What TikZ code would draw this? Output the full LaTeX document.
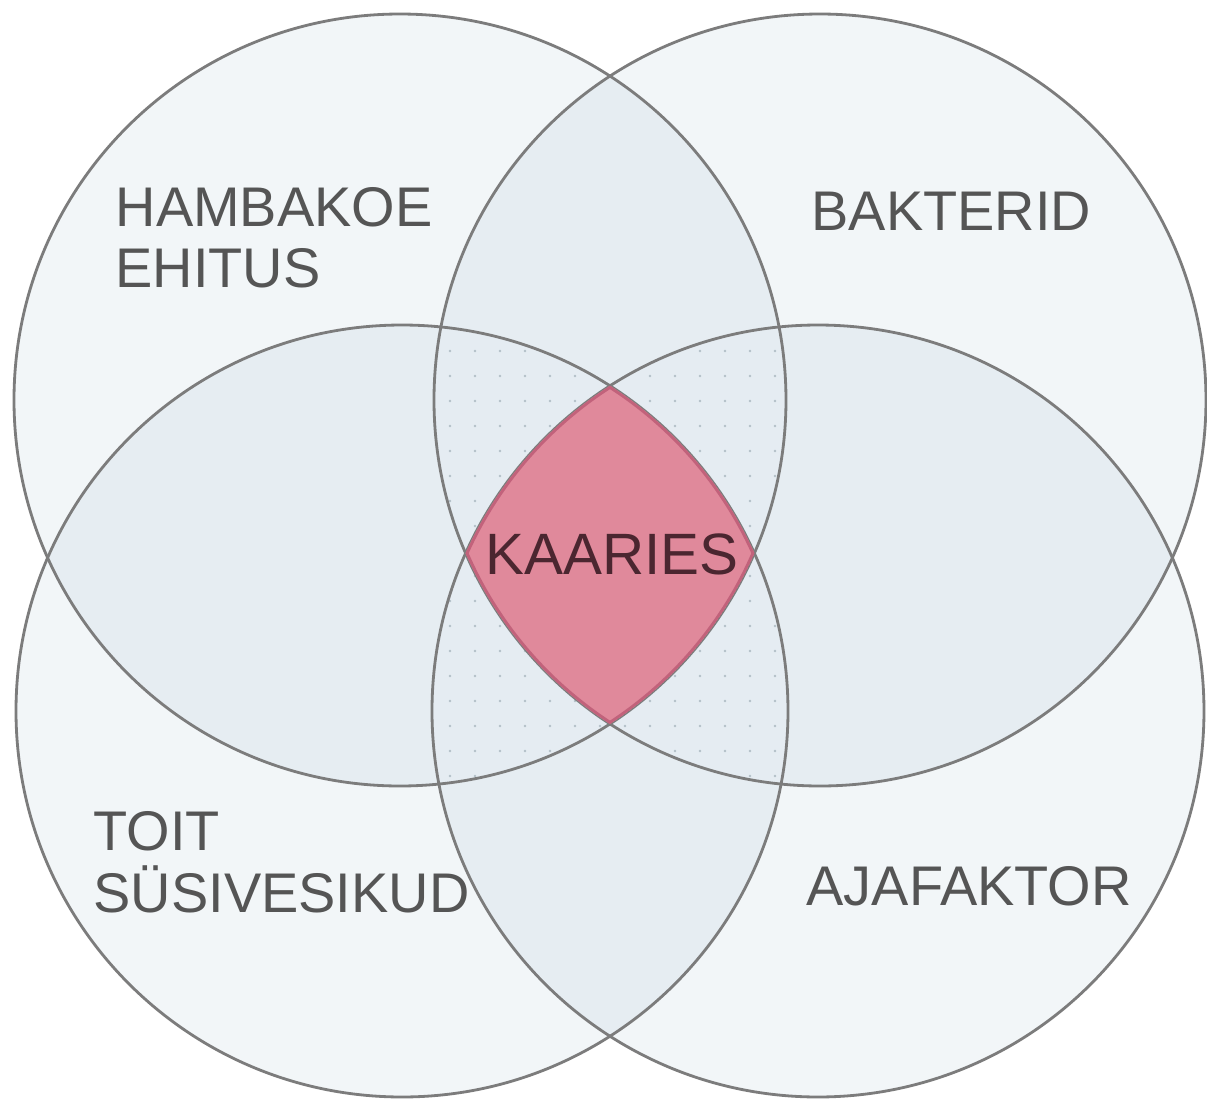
\documentclass[tikz,border=0pt]{standalone}
\usepackage{fontspec}
\setmainfont{Liberation Sans}
\usetikzlibrary{patterns.meta}
\definecolor{ringfill}{HTML}{F2F6F8}
\definecolor{lensfill}{HTML}{E6EDF2}
\definecolor{trefill}{HTML}{E5ECF2}
\definecolor{dotclr}{HTML}{B3BFC8}
\definecolor{cariesfill}{HTML}{E0899B}
\definecolor{cariesline}{HTML}{C2627B}
\definecolor{ringline}{HTML}{7C7C7C}
\definecolor{labelclr}{HTML}{555555}
\definecolor{cariesclr}{HTML}{4B2630}
\newcommand\Rad{386}

\begin{document}
\begin{tikzpicture}[x=0.1mm, y=-0.1mm,
                    ring/.style = {draw = ringline, line width=0.8pt},
                    label/.style = {anchor=base west, align=left, inner sep=0pt, text = labelclr,
                                    font=\fontsize{15.9pt}{17.2pt}\selectfont}]
                \useasboundingbox (0,0) rectangle (1207,1101);
                \fill [white] (0,0) rectangle (1207,1101);

                \coordinate (tl) at (400,400);
                \coordinate (tr) at (820,400);
                \coordinate (bl) at (402,711);
                \coordinate (br) at (818,711);

                % one set
                \foreach \c in {tl,tr,bl,br}{
                  \fill [ringfill] (\c) circle [radius=\Rad];
                }
                % two sets
                \foreach \a/\b in {tl/tr, tl/bl, tl/br, tr/bl, tr/br, bl/br}{
                  \begin{scope}
                    \clip (\a) circle [radius=\Rad];
                    \fill [lensfill] (\b) circle [radius=\Rad];
                  \end{scope}
                }
                % three sets
                \foreach \a/\b/\c in {tl/tr/bl, tl/tr/br, tl/bl/br, tr/bl/br}{
                  \begin{scope}
                    \clip (\a) circle [radius=\Rad];
                    \clip (\b) circle [radius=\Rad];
                    \fill [trefill] (\c) circle [radius=\Rad];
                    \fill [pattern={Dots[radius=0.4pt, distance=2.5mm]}, pattern color=dotclr]
                          (\c) circle [radius=\Rad];
                  \end{scope}
                }
                \foreach \c in {tl,tr,bl,br}{
                  \draw [ring] (\c) circle [radius=\Rad];
                }
                % all four
                \begin{scope}
                  \clip (tl) circle [radius=\Rad];
                  \clip (tr) circle [radius=\Rad];
                  \clip (bl) circle [radius=\Rad];
                  \clip (br) circle [radius=\Rad];
                  \fill [cariesfill] (tl) circle [radius=\Rad];
                  \foreach \c in {tl,tr,bl,br}{
                    \draw [cariesline, line width=1.6pt] (\c) circle [radius=\Rad];
                  }
                \end{scope}

                \node [label] (hambakoe) at (115,287) {HAMBAKOE\\EHITUS};
                \node [label] (bakterid) at (811,230) {BAKTERID};
                \node [label, font=\fontsize{15.9pt}{17.6pt}\selectfont] (toit) at (93,912) {TOIT\\SÜSIVESIKUD};
                \node [label] (ajafaktor) at (806,905) {AJAFAKTOR};
                \node [anchor=base, inner sep=0pt, text = cariesclr, font=\fontsize{16.6pt}{18pt}\selectfont] (kaaries) at (612,574) {KAARIES};
\end{tikzpicture}
\end{document}
